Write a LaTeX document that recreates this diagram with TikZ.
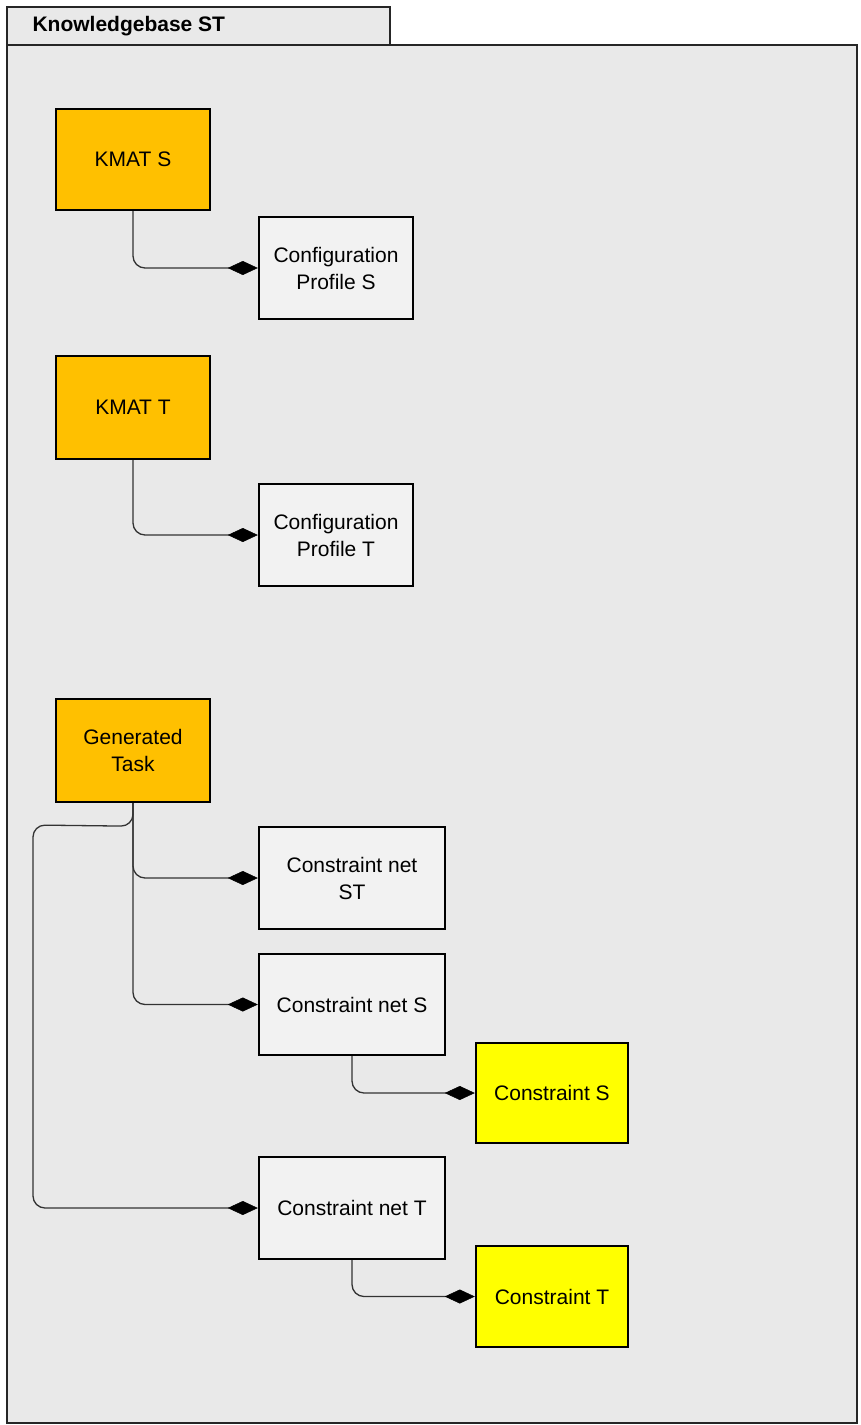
\documentclass[tikz,border=0pt]{standalone}
\usepackage{fontspec}
\setmainfont{Liberation Sans}
\usetikzlibrary{arrows.meta}
\definecolor{pkgfill}{HTML}{E9E9E9}
\definecolor{boxfill}{HTML}{F2F2F2}
\definecolor{kmatfill}{HTML}{FFC000}
\definecolor{consfill}{HTML}{FFFF00}
\definecolor{wire}{HTML}{333333}
\tikzset{
  every node/.style={font=\fontsize{21}{27}\selectfont},
  block/.style={draw=black, line width=2.4pt, inner sep=0pt, align=center},
  plainbox/.style={block, fill=boxfill},
  kmatbox/.style={block, fill=kmatfill},
  consbox/.style={block, fill=consfill},
  comp/.style={draw=wire, line width=1.3pt, rounded corners=12pt,
    -{Diamond[length=30pt,width=14pt,color=black,fill=black,line width=0.5pt]}},
}
\begin{document}
\begin{tikzpicture}[x=1pt,y=-1pt]
\useasboundingbox (0,0) rectangle (860,1425);
% package frame with its name tab
\draw[fill=pkgfill, line width=2pt, draw=black!85] (7,45) rectangle (857,1423);
\draw[fill=pkgfill, line width=2pt, draw=black!85] (7,7) rectangle (390,45);
\node[anchor=west, font=\fontsize{21}{24}\selectfont\bfseries] (title) at (29,26) {Knowledgebase ST};

% blocks: centre, size
\node[kmatbox, minimum width=154pt, minimum height=101pt] (kmats) at (133,159.5) {KMAT S};
\node[plainbox, minimum width=154pt, minimum height=102pt] (cps) at (336,268) {Configuration\\Profile S};
\node[kmatbox, minimum width=154pt, minimum height=103pt] (kmatt) at (133,407.5) {KMAT T};
\node[plainbox, minimum width=154pt, minimum height=102pt] (cpt) at (336,535) {Configuration\\Profile T};
\node[kmatbox, minimum width=154pt, minimum height=103pt] (gen) at (133,750.5) {Generated\\Task};
\node[plainbox, minimum width=186pt, minimum height=102pt] (cnst) at (352,878) {Constraint net\\ST};
\node[plainbox, minimum width=186pt, minimum height=101pt] (cns) at (352,1004.5) {Constraint net S};
\node[consbox, minimum width=152pt, minimum height=100pt] (cs) at (552,1093) {Constraint S};
\node[plainbox, minimum width=186pt, minimum height=102pt] (cnt) at (352,1208) {Constraint net T};
\node[consbox, minimum width=152pt, minimum height=101pt] (ct) at (552,1296.5) {Constraint T};

% composition links
\draw[comp] (kmats.south) |- (cps.west);
\draw[comp] (kmatt.south) |- (cpt.west);
\draw[comp] (gen.south) |- (cnst.west);
\draw[comp] (gen.south) |- (cns.west);
\coordinate (bend) at (33,825);
\draw[comp] (gen.south) -- ++(0,23) -- (bend) |- (cnt.west);
\draw[comp] (cns.south) |- (cs.west);
\draw[comp] (cnt.south) |- (ct.west);
\end{tikzpicture}
\end{document}
